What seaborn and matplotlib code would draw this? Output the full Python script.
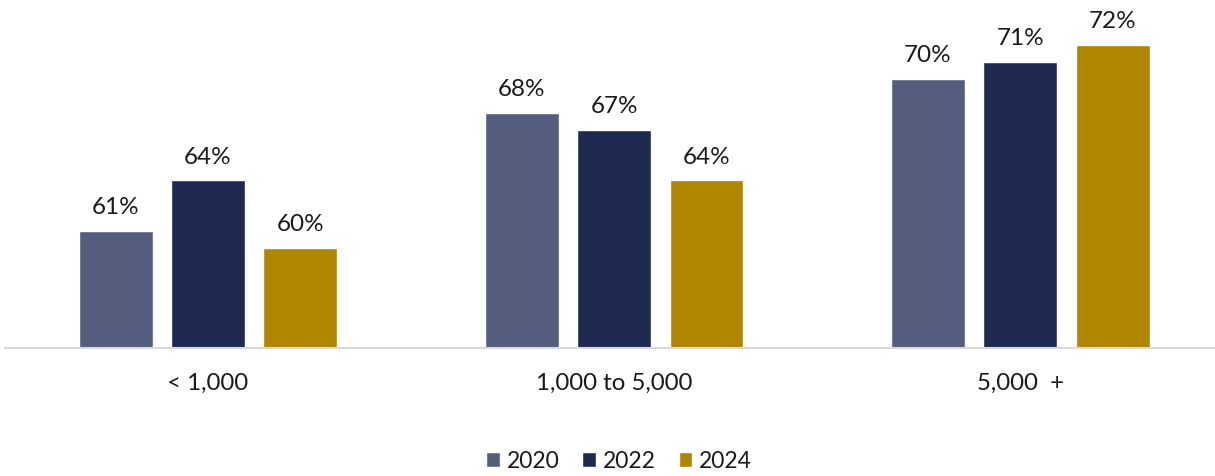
import matplotlib
matplotlib.use("Agg")
import matplotlib.pyplot as plt
import seaborn as sns
import pandas as pd

# Share of respondents by organisation size and survey year
sizes = ["< 1,000", "1,000 to 5,000", "5,000  +"]
years = ["2020", "2022", "2024"]
values_2020 = [61, 68, 70]
values_2022 = [64, 67, 71]
values_2024 = [60, 64, 72]

colors = ["#565E80", "#1F2A52", "#B08500"]

rows = []
for year, vals in zip(years, [values_2020, values_2022, values_2024]):
    for size, v in zip(sizes, vals):
        rows.append({"size": size, "year": year, "value": v})
df = pd.DataFrame(rows)

sns.set_theme(style="white")
plt.rcParams["font.family"] = ["Lato", "DejaVu Sans"]

fig = plt.figure(figsize=(12.15, 4.77), dpi=100)
ax = fig.add_axes([5 / 1215, 128 / 477, 1 - 5 / 1215, (349 - 12.3) / 477])

sns.barplot(data=df, x="size", y="value", hue="year", order=sizes,
            hue_order=years, palette=colors, width=0.683, gap=0.2,
            saturation=1, ax=ax, legend=True)

ax.set_ylim(54.1, 74)
ax.set_xlim(-0.5, 2.48)

for container in ax.containers:
    ax.bar_label(container, labels=[f"{v:.0f}%" for v in container.datavalues],
                 padding=10, fontsize=17.5, color="#1a1a1a")

for side in ["top", "right", "left"]:
    ax.spines[side].set_visible(False)
ax.spines["bottom"].set_color("#D9D9D9")
ax.spines["bottom"].set_linewidth(1.5)
ax.set_yticks([])
ax.set_xlabel("")
ax.set_ylabel("")
ax.tick_params(axis="x", length=0, pad=17, labelsize=17.3, labelcolor="#1a1a1a")

leg = ax.legend(loc="center", bbox_to_anchor=(619 / 1215, 15 / 477),
                bbox_transform=fig.transFigure, ncol=3, frameon=False,
                fontsize=16.5, handlelength=0.6, handleheight=0.6,
                handletextpad=0.3, columnspacing=1.0)
for t in leg.get_texts():
    t.set_color("#1a1a1a")

fig.savefig("out.png", dpi=100)
